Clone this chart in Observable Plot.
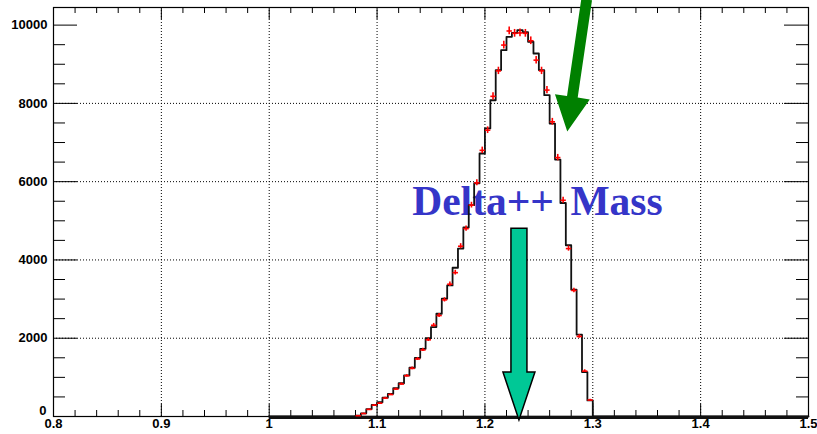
<!DOCTYPE html>
<html>
<head>
<meta charset="utf-8">
<script src="https://cdn.jsdelivr.net/npm/d3@7"></script>
<script src="https://cdn.jsdelivr.net/npm/@observablehq/plot@0.6"></script>
<style>
  html, body { margin: 0; padding: 0; background: white; }
  svg { display: block; }
</style>
</head>
<body>
<div id="chart"></div>
<script>
// Histogram binning: 100 bins of width 0.005 from 1.0 to 1.5
const binLow = 1.0;
const binWidth = 0.005;

// Black histogram contents, one per bin
const histCounts = [
  0, 0, 0, 0, 0, 0, 0, 0, 0, 0,
  0, 0, 0, 0, 0, 0, 20, 80, 190, 295,
  365, 480, 580, 725, 850, 1050, 1245, 1500, 1730, 2000,
  2285, 2625, 3010, 3350, 3800, 4290, 4830, 5400, 5960, 6720,
  7360, 8080, 8850, 9360, 9700, 9800, 9870, 9820, 9575, 9275,
  8850, 8210, 7485, 6565, 5455, 4375, 3240, 2090, 1135, 410,
  0, 0, 0, 0, 0, 0, 0, 0, 0, 0,
  0, 0, 0, 0, 0, 0, 0, 0, 0, 0,
  0, 0, 0, 0, 0, 0, 0, 0, 0, 0,
  0, 0, 0, 0, 0, 0, 0, 0, 0, 0
];

// Red points with statistical error bars, starting at bin 16 (x = 1.080)
const redFirstBin = 16;
const redCounts = [
  20, 75, 180, 290, 340, 470, 560, 700, 830, 1040,
  1230, 1470, 1700, 1960, 2330, 2580, 2980, 3380, 3675, 4350,
  4800, 5400, 5970, 6800, 7315, 8180, 8830, 9490, 9850, 9790,
  9800, 9790, 9600, 9105, 8830, 8340, 7530, 6615, 5525, 4290,
  3220, 2045, 1160, 420
];

// Axis ticks and labels
const xTickValues = [0.8, 0.9, 1.0, 1.1, 1.2, 1.3, 1.4, 1.5];
const xTickLabels = ["0.8", "0.9", "1", "1.1", "1.2", "1.3", "1.4", "1.5"];
const yTickValues = [0, 2000, 4000, 6000, 8000, 10000];
const yTickLabels = ["0", "2000", "4000", "6000", "8000", "10000"];

// Annotations
const titleText = "Delta++ Mass";
const titlePos = {x: 1.1326, y: 5140};
const deltaMass = 1.232;

const W = 817, H = 434;
const mL = 53, mR = 9, mT = 7, mB = 18;
const plotW = W - mL - mR, plotH = H - mT - mB;

const xMinor = d3.range(0.8, 1.5001, 0.02).map(v => +v.toFixed(2))
  .filter(v => !xTickValues.some(t => Math.abs(t - v) < 1e-6));
const yMinor = d3.range(500, 10450, 500).filter(v => v % 2000 !== 0);

// Step outline: left edge of every bin, closed at the upper limit
const histHigh = binLow + histCounts.length * binWidth;
const steps = histCounts.map((c, i) => ({x: binLow + i * binWidth, y: c}));
steps.push({x: histHigh, y: 0});

const redPts = redCounts.map((c, j) => {
  const lo = binLow + (redFirstBin + j) * binWidth;
  return {lo, hi: lo + binWidth, mid: lo + binWidth / 2, y: c, err: Math.sqrt(c)};
});

const labelFont = "'Liberation Sans', Arial, Helvetica, sans-serif";
const labelSize = 13;

const chart = Plot.plot({
  width: W, height: H,
  marginLeft: mL, marginRight: mR, marginTop: mT, marginBottom: mB,
  x: {domain: [0.8, 1.5], axis: null},
  y: {domain: [0, 10450], axis: null},
  style: {background: "white", overflow: "visible"},
  marks: [
    // dotted grid at major ticks
    Plot.ruleX(xTickValues.slice(1, -1), {stroke: "black", strokeWidth: 1, strokeDasharray: "1,2"}),
    Plot.ruleY(yTickValues.slice(1, -1), {stroke: "black", strokeWidth: 1, strokeDasharray: "1,2"}),
    // inward ticks: bottom and top
    Plot.tickX(xTickValues, {x: d => d, insetTop: plotH - 12, stroke: "black"}),
    Plot.tickX(xMinor, {x: d => d, insetTop: plotH - 6, stroke: "black"}),
    Plot.tickX(xTickValues, {x: d => d, insetBottom: plotH - 12, stroke: "black"}),
    Plot.tickX(xMinor, {x: d => d, insetBottom: plotH - 6, stroke: "black"}),
    // inward ticks: left and right
    Plot.tickY(yTickValues, {y: d => d, insetRight: plotW - 24, stroke: "black"}),
    Plot.tickY(yMinor, {y: d => d, insetRight: plotW - 12, stroke: "black"}),
    Plot.tickY(yTickValues, {y: d => d, insetLeft: plotW - 24, stroke: "black"}),
    Plot.tickY(yMinor, {y: d => d, insetLeft: plotW - 12, stroke: "black"}),
    Plot.frame({stroke: "black", strokeWidth: 1.2}),
    // tick labels
    Plot.text(xTickValues, {
      x: d => d, text: (d, i) => xTickLabels[i], frameAnchor: "bottom",
      lineAnchor: "top", dy: 2, fontFamily: labelFont, fontSize: labelSize, fontWeight: "bold", fill: "black"
    }),
    Plot.text(yTickValues.slice(1), {
      y: d => d, text: (d, i) => yTickLabels[i + 1], frameAnchor: "left",
      textAnchor: "end", dx: -6, fontFamily: labelFont, fontSize: labelSize, fontWeight: "bold", fill: "black"
    }),
    Plot.text(yTickValues.slice(0, 1), {
      y: d => d, text: () => yTickLabels[0], frameAnchor: "left",
      textAnchor: "end", dx: -7, dy: -6, fontFamily: labelFont, fontSize: labelSize, fontWeight: "bold", fill: "black"
    }),
    // annotation text
    Plot.text([titlePos], {
      x: "x", y: "y", text: () => titleText, textAnchor: "start", lineAnchor: "bottom",
      fontFamily: "'Liberation Serif', 'Times New Roman', serif", fontWeight: "bold",
      fontSize: 41.5, fill: "#3535c8"
    }),
    // histogram baseline over its full range, then the outline
    Plot.ruleY([0], {x1: binLow, x2: histHigh, stroke: "#111", strokeWidth: 3.2, dy: 0.8}),
    Plot.line(steps, {x: "x", y: "y", curve: "step-after", stroke: "#111", strokeWidth: 1.8}),
    // red points: bin-width bars and sqrt(N) error bars
    Plot.link(redPts, {x1: "lo", x2: "hi", y1: "y", y2: "y", stroke: "#ff0000", strokeWidth: 1.6}),
    Plot.ruleX(redPts, {x: "mid", y1: d => d.y - d.err, y2: d => d.y + d.err, stroke: "#ff0000", strokeWidth: 1.6})
  ]
});

document.getElementById("chart").appendChild(chart);

const svg = d3.select(chart);
// wider gap between the two words of the annotation
svg.selectAll("text").filter(function() { return this.textContent === titleText; })
  .style("word-spacing", "6px");

// Block arrows placed through the chart's scales
const sx = chart.scale("x"), sy = chart.scale("y");
function arrowPath(tail, tip, shaftHalf, headHalf, headLen) {
  const x0 = sx.apply(tail[0]), y0 = sy.apply(tail[1]);
  const x1 = sx.apply(tip[0]), y1 = sy.apply(tip[1]);
  const len = Math.hypot(x1 - x0, y1 - y0);
  const ux = (x1 - x0) / len, uy = (y1 - y0) / len;
  const nx = -uy, ny = ux;
  const bx = x1 - ux * headLen, by = y1 - uy * headLen;
  const pts = [
    [x0 + nx * shaftHalf, y0 + ny * shaftHalf],
    [bx + nx * shaftHalf, by + ny * shaftHalf],
    [bx + nx * headHalf, by + ny * headHalf],
    [x1, y1],
    [bx - nx * headHalf, by - ny * headHalf],
    [bx - nx * shaftHalf, by - ny * shaftHalf],
    [x0 - nx * shaftHalf, y0 - ny * shaftHalf]
  ];
  return "M" + pts.map(p => p.join(",")).join("L") + "Z";
}

// marker at the nominal Delta++ mass
svg.append("path")
  .attr("d", arrowPath([deltaMass, 4800], [deltaMass, -100], 8, 16, 48))
  .attr("fill", "#00c896").attr("stroke", "black").attr("stroke-width", 1.5)
  .attr("stroke-linejoin", "miter");
// pointer onto the falling edge of the peak
svg.append("path")
  .attr("d", arrowPath([1.2948, 10640], [1.2768, 7270], 5.4, 17.6, 35))
  .attr("fill", "#008000");
</script>
</body>
</html>
